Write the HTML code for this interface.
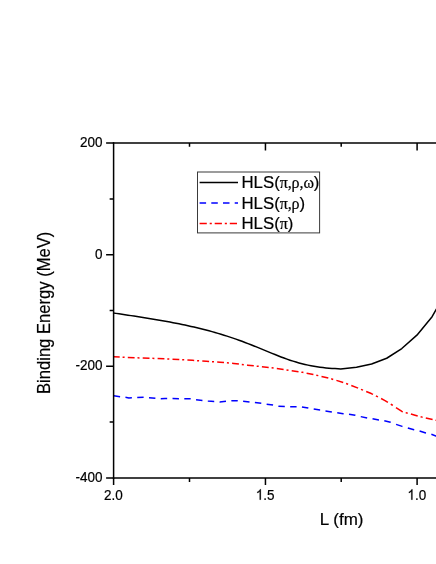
<!DOCTYPE html>
<html><head><meta charset="utf-8"><style>
html,body{margin:0;padding:0;background:#fff;}
body{width:436px;height:564px;overflow:hidden;}
svg{display:block;will-change:transform;}
text{font-family:"Liberation Sans",sans-serif;fill:#000;stroke:#000;stroke-width:0.2px;}
.g{font-family:"Liberation Serif",serif;font-size:16px;letter-spacing:-0.1px;}
</style></head><body>
<svg width="436" height="564" viewBox="0 0 436 564">
<rect width="436" height="564" fill="#fff"/>
<!-- curves -->
<g fill="none" stroke-width="1.5" stroke-linejoin="round">
<path d="M113.00,312.93 L116.00,313.38 L119.00,313.83 L122.00,314.28 L125.00,314.72 L128.00,315.17 L131.00,315.63 L134.00,316.08 L137.00,316.54 L140.00,317.01 L143.00,317.48 L146.00,317.95 L149.00,318.44 L152.00,318.93 L155.00,319.43 L158.00,319.94 L161.00,320.46 L164.00,320.99 L167.00,321.53 L170.00,322.09 L173.00,322.65 L176.00,323.24 L179.00,323.84 L182.00,324.45 L185.00,325.08 L188.00,325.73 L191.00,326.40 L194.00,327.09 L197.00,327.79 L200.00,328.52 L203.00,329.27 L206.00,330.04 L209.00,330.83 L212.00,331.65 L215.00,332.49 L218.00,333.36 L221.00,334.26 L224.00,335.18 L227.00,336.13 L230.00,337.11 L233.00,338.12 L236.00,339.15 L239.00,340.22 L242.00,341.32 L245.00,342.44 L248.00,343.58 L251.00,344.75 L254.00,345.94 L257.00,347.14 L260.00,348.36 L263.00,349.60 L266.00,350.85 L269.00,352.09 L272.00,353.33 L275.00,354.56 L278.00,355.76 L281.00,356.94 L284.00,358.07 L287.00,359.16 L290.00,360.19 L293.00,361.16 L296.00,362.07 L299.00,362.92 L302.00,363.71 L305.00,364.44 L308.00,365.11 L311.00,365.72 L314.00,366.27 L317.00,366.76 L320.00,367.19 L323.00,367.56 L326.00,367.88 L329.00,368.15 L332.00,368.39 L335.00,368.59 L338.00,368.77 L340.70,369.00 L356.50,367.15 L371.60,363.95 L386.70,358.25 L401.80,348.55 L416.90,335.15 L432.10,316.65 L447.30,289.75" stroke="#000"/>
<path d="M113.00,356.80 L113.80,356.85 L119.70,357.09 M122.60,357.20 L123.75,357.25 L124.60,357.29 M127.80,357.43 L134.60,357.72 M137.50,357.85 L139.50,357.91 M142.70,358.00 L149.50,358.20 M152.40,358.30 L154.40,358.39 M157.60,358.53 L164.40,358.82 M167.30,358.96 L169.30,359.05 M172.50,359.20 L178.75,359.50 L179.30,359.53 M182.20,359.71 L184.20,359.84 M187.40,360.03 L192.50,360.35 L194.20,360.46 M197.10,360.65 L199.10,360.78 M202.30,360.99 L206.25,361.25 L209.10,361.44 M212.00,361.63 L214.00,361.76 M217.20,361.97 L220.00,362.15 L224.00,362.53 M226.90,362.80 L228.90,362.99 M232.10,363.29 L233.75,363.45 L238.90,364.09 M241.80,364.45 L243.80,364.69 M247.00,365.09 L247.50,365.15 L253.80,365.84 M256.70,366.15 L258.70,366.37 M261.90,366.73 L268.70,367.52 M271.60,367.85 L273.60,368.09 M276.80,368.51 L283.60,369.50 M286.50,369.92 L288.50,370.21 M291.70,370.70 L298.50,371.74 M301.40,372.18 L302.50,372.35 L303.40,372.53 M306.60,373.18 L313.40,374.57 M316.30,375.16 L318.30,375.64 M321.50,376.41 L328.30,378.04 M331.20,378.82 L333.20,379.43 M336.40,380.40 L343.20,382.48 M346.10,383.55 L348.10,384.31 M351.30,385.53 L357.50,387.90 L358.10,388.15 M361.00,389.34 L363.00,390.16 M366.20,391.47 L371.25,393.55 L373.00,394.43 M375.90,395.89 L377.90,396.89 M381.10,398.50 L385.00,400.55 L387.90,402.37 M390.80,404.19 L391.70,404.75 L392.80,405.47 M396.00,407.57 L401.90,411.45 L402.80,411.72 M405.70,412.60 L406.85,412.95 L407.70,413.19 M410.90,414.09 L415.05,415.25 L417.70,415.95 M420.60,416.72 L422.20,417.15 L422.60,417.24 M425.80,417.96 L432.60,419.49 M435.50,420.14 L436.00,420.25 L437.00,420.48" stroke="#f00"/>
<path d="M113.70,395.64 L113.80,395.65 L120.00,396.65 L120.10,396.66 M125.46,397.26 L128.90,397.90 L131.87,397.77 M137.23,397.54 L143.63,397.16 M148.99,397.67 L155.39,398.25 M160.76,398.64 L165.00,398.55 L167.16,398.54 M172.53,398.50 L172.60,398.50 L178.90,398.65 L178.93,398.65 M184.29,398.75 L190.69,398.85 M196.05,399.77 L202.45,400.60 M207.82,400.99 L207.90,401.00 L214.20,401.40 L214.22,401.40 M219.59,401.88 L219.80,401.90 L225.99,401.25 M231.35,400.85 L234.50,400.65 L237.65,400.85 L237.75,400.86 M243.12,401.36 L249.52,402.04 M254.88,402.57 L261.28,403.24 M266.64,404.18 L273.00,405.05 L273.04,405.06 M278.41,406.23 L278.50,406.25 L284.80,406.40 L284.81,406.40 M290.18,406.65 L296.58,406.65 M301.94,407.06 L308.20,408.05 L308.34,408.08 M313.71,409.08 L320.10,410.05 L320.11,410.05 M325.47,411.09 L330.00,411.75 L331.87,412.02 M337.24,412.80 L343.20,413.65 L343.63,413.70 M349.00,414.30 L355.20,415.25 L355.40,415.30 M360.76,416.61 L367.16,418.04 M372.53,418.71 L378.90,419.95 L378.93,419.95 M384.30,420.77 L390.50,422.25 L390.70,422.33 M396.06,424.40 L402.20,426.35 L402.46,426.42 M407.83,427.94 L414.00,429.80 L414.23,429.85 M419.59,431.08 L425.80,432.95 L425.99,433.00 M431.36,434.31 L436.00,436.10 L437.00,436.41" stroke="#00f"/>
</g>
<!-- axes -->
<g stroke="#000" stroke-width="1.5" fill="none">
<path d="M113.6,142.25V478.75"/>
<path d="M112.85,143H436"/>
<path d="M112.85,478H436"/>
<!-- y ticks -->
<path d="M106.1,143H113.6M106.1,254.8H113.6M106.1,366.25H113.6M106.1,478H113.6"/>
<path d="M109.65,199H113.6M109.65,310.5H113.6M109.65,421.9H113.6"/>
<!-- x ticks bottom -->
<path d="M113.6,478V485M265.45,478V485M417.1,478V485"/>
<path d="M189.5,478V482M341.2,478V482"/>
<!-- x ticks top -->
<path d="M265.45,143V150.6M417.1,143V150.6"/>
<path d="M189.5,143V146.8M341.2,143V146.8"/>
</g>
<!-- tick labels -->
<g font-size="13.5px" text-anchor="end">
<text transform="translate(102.5,147) scale(1,1.07)">200</text>
<text transform="translate(102.5,259) scale(1,1.07)">0</text>
<text transform="translate(102.5,370) scale(1,1.07)">-200</text>
<text transform="translate(102.5,482) scale(1,1.07)">-400</text>
</g>
<g font-size="13.5px" text-anchor="middle">
<text transform="translate(113.3,499.65) rotate(0.01) scale(1,1.07)">2.0</text>
</g>
<path transform="translate(255.82,499.65) scale(0.006592,-0.007053)" d="M763,0H583V1147Q518,1085 412.5,1023T223,930V1104Q373,1174.5 485,1275T644,1472H763Z" fill="#000" stroke="#000" stroke-width="0.2" vector-effect="non-scaling-stroke"/><text transform="translate(263.32,499.65) rotate(0.01) scale(1,1.07)" font-size="13.5px">.5</text>
<path transform="translate(407.42,499.65) scale(0.006592,-0.007053)" d="M763,0H583V1147Q518,1085 412.5,1023T223,930V1104Q373,1174.5 485,1275T644,1472H763Z" fill="#000" stroke="#000" stroke-width="0.2" vector-effect="non-scaling-stroke"/><text transform="translate(414.92,499.65) rotate(0.01) scale(1,1.07)" font-size="13.5px">.0</text>
<text transform="translate(341.6,525) scale(1,0.97)" font-size="17px" text-anchor="middle">L (fm)</text>
<text transform="translate(49.5,312.85) rotate(-90) scale(1,1.05)" font-size="16.6px" text-anchor="middle">Binding Energy (MeV)</text>
<!-- legend -->
<rect x="197.5" y="172" width="122.1" height="60.9" fill="#fff" stroke="#3a3a3a" stroke-width="1"/>
<path d="M199.6,182.45H238" stroke="#000" stroke-width="1.5"/>
<path d="M199.6,202.95H238" stroke="#00f" stroke-width="1.5" stroke-dasharray="6.5 5.2"/>
<path d="M199.6,223.55H238" stroke="#f00" stroke-width="1.5" stroke-dasharray="7.2 2.9 2.1 2.9"/>
<g font-size="16.8px">
<text transform="translate(241.5,188.3) rotate(0.01)">HLS(<tspan class="g">π,ρ,ω</tspan>)</text>
<text transform="translate(241.5,208.5) rotate(0.01)">HLS(<tspan class="g">π,ρ</tspan>)</text>
<text transform="translate(241.5,229.1) rotate(0.01)">HLS(<tspan class="g">π</tspan>)</text>
</g>
</svg>
</body></html>
